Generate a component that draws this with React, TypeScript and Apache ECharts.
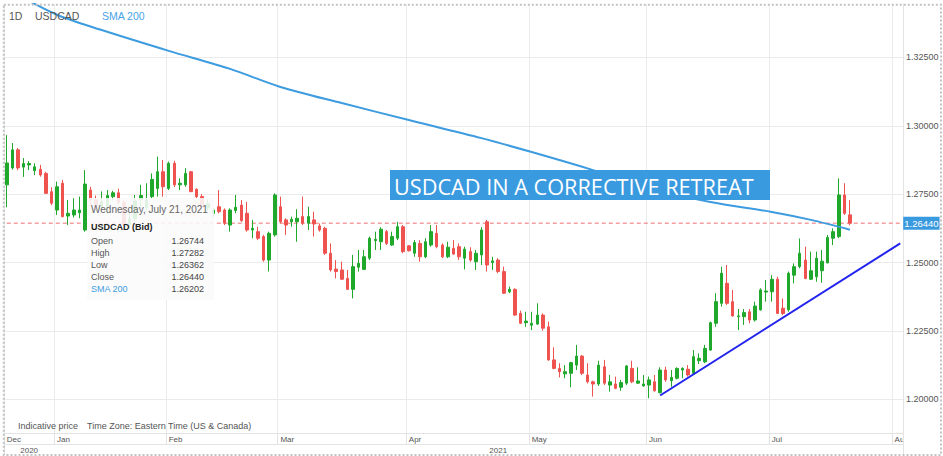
import React, { useEffect, useRef } from 'react';
import * as echarts from 'echarts';

// ---- categories: trading days shown on the axis ----
const tradingDays: [string, number[]][] = [
  ['2020-12', [18, 21, 22, 23, 24, 28, 29, 30, 31]],
  ['2021-01', [4, 5, 6, 7, 8, 11, 12, 13, 14, 15, 18, 19, 20, 21, 22, 25, 26, 27, 28, 29]],
  ['2021-02', [1, 2, 3, 4, 5, 8, 9, 10, 11, 12, 15, 16, 17, 18, 19, 22, 23, 24, 25, 26]],
  ['2021-03', [1, 2, 3, 4, 5, 8, 9, 10, 11, 12, 15, 16, 17, 18, 19, 22, 23, 24, 25, 26, 29, 30, 31]],
  ['2021-04', [1, 2, 5, 6, 7, 8, 9, 12, 13, 14, 15, 16, 19, 20, 21, 22, 23, 26, 27, 28, 29, 30]],
  ['2021-05', [3, 4, 5, 6, 7, 10, 11, 12, 13, 14, 17, 18, 19, 20, 21, 24, 25, 26, 27, 28, 31]],
  ['2021-06', [1, 2, 3, 4, 7, 8, 9, 10, 11, 14, 15, 16, 17, 18, 21, 22, 23, 24, 25, 28, 29, 30]],
  ['2021-07', [1, 2, 5, 6, 7, 8, 9, 12, 13, 14, 15, 16, 19, 20, 21, 22, 23, 26, 27, 28, 29, 30]],
  ['2021-08', [2, 3]],
];
const dates: string[] = tradingDays.flatMap(([ym, ds]) => ds.map((d) => `${ym}-${String(d).padStart(2, '0')}`));

const monthNames = ['Jan', 'Feb', 'Mar', 'Apr', 'May', 'Jun', 'Jul', 'Aug', 'Sep', 'Oct', 'Nov', 'Dec'];

// ---- OHLC ----
const opens = [
  1.2784, 1.2846, 1.2912, 1.2849, 1.2857, 1.2836, 1.2841, 1.2826, 1.2759,
  1.2692, 1.2790, 1.2670, 1.2674, 1.2682, 1.2619, 1.2765, 1.2729, 1.2705, 1.2700, 1.2741, 1.2755, 1.2720, 1.2640, 1.2660, 1.2730, 1.2700, 1.2741, 1.2771, 1.2832,
  1.2771, 1.2863, 1.2784, 1.2784, 1.2832, 1.2768, 1.2741, 1.2700, 1.2680, 1.2704, 1.2692, 1.2637, 1.2690, 1.2710, 1.2680, 1.2619, 1.2613, 1.2595, 1.2509, 1.2601,
  1.2704, 1.2656, 1.2649, 1.2649, 1.2668, 1.2644, 1.2656, 1.2634, 1.2625, 1.2534, 1.2476, 1.2473, 1.2442, 1.2402, 1.2483, 1.2475, 1.2516, 1.2580, 1.2576, 1.2613, 1.2564, 1.2589, 1.2631,
  1.2561, 1.2534, 1.2570, 1.2521, 1.2564, 1.2607, 1.2564, 1.2521, 1.2552, 1.2558, 1.2516, 1.2540, 1.2503, 1.2528, 1.2649, 1.2500, 1.2509, 1.2467, 1.2393, 1.2402, 1.2314, 1.2280,
  1.2271, 1.2275, 1.2308, 1.2265, 1.2144, 1.2113, 1.2093, 1.2095, 1.2125, 1.2158, 1.2089, 1.2064, 1.2056, 1.2119, 1.2052, 1.2056, 1.2044, 1.2059, 1.2113, 1.2059, 1.2049,
  1.2052, 1.2064, 1.2024, 1.2107, 1.2068, 1.2077, 1.2107, 1.2110, 1.2095, 1.2141, 1.2137, 1.2180, 1.2278, 1.2351, 1.2424, 1.2357, 1.2302, 1.2302, 1.2320, 1.2290, 1.2327, 1.2392,
  1.2393, 1.2439, 1.2333, 1.2327, 1.2454, 1.2485, 1.2509, 1.2439, 1.2448, 1.2470, 1.2499, 1.2589, 1.2595, 1.2747, 1.26744,
];
const closes = [
  1.2864, 1.2912, 1.2846, 1.2862, 1.2862, 1.2850, 1.2820, 1.2753, 1.2717,
  1.2777, 1.2668, 1.2680, 1.2692, 1.2692, 1.2787, 1.2729, 1.2705, 1.2722, 1.2745, 1.2755, 1.2720, 1.2640, 1.2660, 1.2725, 1.2745, 1.2728, 1.2804, 1.2832, 1.2777,
  1.2863, 1.2784, 1.2790, 1.2826, 1.2759, 1.2741, 1.2705, 1.2715, 1.2692, 1.2686, 1.2644, 1.2692, 1.2702, 1.2653, 1.2619, 1.2625, 1.2589, 1.2509, 1.2607, 1.2747,
  1.2649, 1.2637, 1.2658, 1.2662, 1.2644, 1.2668, 1.2641, 1.2619, 1.2534, 1.2473, 1.2467, 1.2439, 1.2402, 1.2485, 1.2497, 1.2521, 1.2589, 1.2585, 1.2622, 1.2570, 1.2595, 1.2631, 1.2540,
  1.2543, 1.2573, 1.2521, 1.2576, 1.2613, 1.2558, 1.2521, 1.2556, 1.2531, 1.2521, 1.2549, 1.2509, 1.2534, 1.2619, 1.2491, 1.2506, 1.2467, 1.2388, 1.2402, 1.2308, 1.2278, 1.2286,
  1.2278, 1.2308, 1.2260, 1.2144, 1.2113, 1.2101, 1.2101, 1.2134, 1.2158, 1.2095, 1.2064, 1.2056, 1.2125, 1.2059, 1.2064, 1.2040, 1.2061, 1.2122, 1.2064, 1.2067, 1.2056,
  1.2071, 1.2031, 1.2107, 1.2071, 1.2080, 1.2113, 1.2113, 1.2089, 1.2156, 1.2150, 1.2186, 1.2280, 1.2357, 1.2461, 1.2351, 1.2305, 1.2305, 1.2317, 1.2290, 1.2341, 1.2400, 1.2396,
  1.2439, 1.2314, 1.2314, 1.2461, 1.2485, 1.2534, 1.2442, 1.2470, 1.2516, 1.2505, 1.2592, 1.2613, 1.2747, 1.2680, 1.26440,
];
const lows = [
  1.2702, 1.2840, 1.2838, 1.2813, 1.2838, 1.2820, 1.2814, 1.2751, 1.2710,
  1.2674, 1.2665, 1.2637, 1.2665, 1.2662, 1.2613, 1.2710, 1.2690, 1.2684, 1.2680, 1.2728, 1.2712, 1.2630, 1.2625, 1.2645, 1.2700, 1.2690, 1.2735, 1.2741, 1.2741,
  1.2765, 1.2776, 1.2765, 1.2777, 1.2759, 1.2735, 1.2695, 1.2690, 1.2665, 1.2680, 1.2637, 1.2613, 1.2680, 1.2649, 1.2613, 1.2589, 1.2582, 1.2503, 1.2467, 1.2595,
  1.2643, 1.2601, 1.2631, 1.2576, 1.2637, 1.2619, 1.2595, 1.2613, 1.2528, 1.2467, 1.2442, 1.2436, 1.2400, 1.2369, 1.2467, 1.2473, 1.2509, 1.2546, 1.2546, 1.2564, 1.2561, 1.2582, 1.2534,
  1.2540, 1.2521, 1.2503, 1.2516, 1.2558, 1.2552, 1.2516, 1.2516, 1.2528, 1.2509, 1.2475, 1.2503, 1.2473, 1.2491, 1.2467, 1.2473, 1.2461, 1.2385, 1.2388, 1.2305, 1.2275, 1.2265,
  1.2253, 1.2272, 1.2251, 1.2141, 1.2110, 1.2080, 1.2077, 1.2044, 1.2107, 1.2089, 1.2058, 1.2010, 1.2049, 1.2052, 1.2028, 1.2037, 1.2031, 1.2052, 1.2059, 1.2056, 1.2046,
  1.2004, 1.2028, 1.2022, 1.2064, 1.2046, 1.2073, 1.2077, 1.2083, 1.2089, 1.2129, 1.2132, 1.2178, 1.2265, 1.2339, 1.2345, 1.2302, 1.2253, 1.2272, 1.2278, 1.2284, 1.2324, 1.2357,
  1.2357, 1.2312, 1.2308, 1.2320, 1.2424, 1.2479, 1.2439, 1.2436, 1.2430, 1.2426, 1.2497, 1.2564, 1.2589, 1.2674, 1.26362,
];
const highs = [
  1.2966, 1.2937, 1.2919, 1.2882, 1.2871, 1.2863, 1.2857, 1.2832, 1.2775,
  1.2796, 1.2802, 1.2729, 1.2735, 1.2741, 1.2838, 1.2777, 1.2745, 1.2760, 1.2765, 1.2762, 1.2770, 1.2730, 1.2690, 1.2747, 1.2784, 1.2790, 1.2826, 1.2887, 1.2875,
  1.2869, 1.2872, 1.2808, 1.2845, 1.2835, 1.2771, 1.2750, 1.2730, 1.2700, 1.2765, 1.2698, 1.2698, 1.2747, 1.2729, 1.2722, 1.2656, 1.2631, 1.2601, 1.2613, 1.2753,
  1.2741, 1.2662, 1.2668, 1.2695, 1.2741, 1.2704, 1.2686, 1.2643, 1.2631, 1.2570, 1.2509, 1.2503, 1.2473, 1.2528, 1.2546, 1.2546, 1.2595, 1.2613, 1.2629, 1.2619, 1.2613, 1.2649, 1.2637,
  1.2564, 1.2582, 1.2582, 1.2589, 1.2637, 1.2637, 1.2570, 1.2576, 1.2582, 1.2570, 1.2558, 1.2556, 1.2546, 1.2629, 1.2656, 1.2521, 1.2516, 1.2485, 1.2412, 1.2406, 1.2324, 1.2320,
  1.2320, 1.2351, 1.2314, 1.2284, 1.2190, 1.2132, 1.2125, 1.2137, 1.2199, 1.2162, 1.2132, 1.2068, 1.2141, 1.2144, 1.2089, 1.2083, 1.2071, 1.2125, 1.2141, 1.2117, 1.2089,
  1.2083, 1.2089, 1.2117, 1.2119, 1.2107, 1.2117, 1.2117, 1.2125, 1.2180, 1.2168, 1.2199, 1.2284, 1.2388, 1.2485, 1.2491, 1.2400, 1.2330, 1.2330, 1.2330, 1.2357, 1.2406, 1.2436,
  1.2454, 1.2448, 1.2369, 1.2467, 1.2497, 1.2588, 1.2558, 1.2540, 1.2540, 1.2546, 1.2601, 1.2625, 1.2808, 1.2790, 1.27282,
];

// ---- SMA 200 ----
const smaDates = ['2020-12-18', '2021-01-04', '2021-01-14', '2021-02-01', '2021-02-16', '2021-03-01', '2021-03-16', '2021-04-01', '2021-04-20', '2021-05-03', '2021-05-18', '2021-06-01', '2021-06-16', '2021-07-01', '2021-07-12', '2021-07-21'];
const smaValues = [1.3500, 1.3406, 1.3350, 1.3274, 1.3208, 1.3142, 1.3083, 1.3021, 1.2955, 1.2904, 1.2838, 1.2773, 1.2721, 1.2685, 1.2656, 1.26202];

// ---- trend line ----
const trendDates = ['2021-06-03', '2021-08-03'];
const trendValues = [1.2014, 1.2570];

// ---- price axis ----
const yTicks = [1.2, 1.225, 1.25, 1.275, 1.3, 1.325];
const yMin = 1.18768;
const yMax = 1.34453;

const FONT = '"Liberation Sans", Arial, Helvetica, sans-serif';
const PRICE_RED = '#f07070';

function isMonthStart(i: number) {
  if (i === 0) return true;
  return dates[i].slice(0, 7) !== dates[i - 1].slice(0, 7);
}
function isYearStart(i: number) {
  return i > 0 && dates[i].slice(0, 4) !== dates[i - 1].slice(0, 4);
}

export default function App() {
  const ref = useRef<HTMLDivElement>(null);
  useEffect(() => {
    if (!ref.current) return;
    const chart = echarts.init(ref.current, undefined, { renderer: 'svg' });
    const last = opens.length - 1;
    const lastClose = closes[last];
    const candleData = opens.map((o, i) => [o, closes[i], lows[i], highs[i]]);
    const lastDateParts = dates[last].split('-').map(Number);
    const lastDate = new Date(lastDateParts[0], lastDateParts[1] - 1, lastDateParts[2]);
    const dateTitle = lastDate.toLocaleDateString('en-US', { weekday: 'long', year: 'numeric', month: 'long', day: 'numeric' });
    const yearLabelIdx: Record<number, boolean> = { 4: true, 88: true };

    const infoRows: [string, number, string][] = [
      ['Open', opens[last], '#555'],
      ['High', highs[last], '#555'],
      ['Low', lows[last], '#555'],
      ['Close', closes[last], '#555'],
      ['SMA 200', smaValues[smaValues.length - 1], '#3d9be0'],
    ];

    const txt = (text: string, x: number, y: number, size: number, fill: string, extra: any = {}) => ({
      type: 'text',
      z: 100,
      style: {
        text, x, y, fill,
        fontSize: size, fontFamily: FONT,
        align: extra.align || 'left', textAlign: extra.align || 'left',
        verticalAlign: 'middle', textVerticalAlign: 'middle',
        fontWeight: extra.weight || 'normal',
      },
    });

    const graphic: any[] = [
      { type: 'rect', z: 100, shape: { x: 3.8, y: 4.7, width: 937.2, height: 450.3 }, style: { fill: 'none', stroke: '#c2c2c2', lineWidth: 2, lineDash: [2, 2] } },
      { type: 'rect', z: 90, shape: { x: 904, y: 434, width: 36, height: 20 }, style: { fill: '#fff' } },
      { type: 'line', z: 91, shape: { x1: 903.5, y1: 433, x2: 903.5, y2: 455 }, style: { stroke: '#e3e3e3', lineWidth: 1 } },
      txt('1D', 9, 16, 10.5, '#555'),
      txt('USDCAD', 35, 16, 10.5, '#555'),
      txt('SMA 200', 102, 16, 10.5, '#4aa3e6'),
      txt('Indicative price', 18, 426, 9, '#555'),
      txt('Time Zone: Eastern Time (US & Canada)', 87, 426, 9, '#555'),
      { type: 'rect', z: 100, shape: { x: 390, y: 170, width: 380, height: 30 }, style: { fill: '#3a9ae0' } },
      {
        type: 'text', z: 101,
        style: { text: 'USDCAD IN A CORRECTIVE RETREAT', x: 394, y: 186, fill: '#fff', fontSize: 21.7, fontFamily: '"Open Sans", Roboto, sans-serif', align: 'left', textAlign: 'left', verticalAlign: 'middle', textVerticalAlign: 'middle' },
      },
      { type: 'rect', z: 99, shape: { x: 87, y: 198, width: 127, height: 102 }, style: { fill: 'rgba(250,250,250,0.88)' } },
      txt(dateTitle, 91, 209, 10, '#666'),
      txt('USDCAD (Bid)', 91, 227, 9, '#222', { weight: 'bold' }),
    ];
    infoRows.forEach(([label, val, color], k) => {
      const y = 241 + k * 12;
      graphic.push(txt(label, 91, y, 9, color));
      graphic.push(txt(val.toFixed(5), 204, y, 9, '#444', { align: 'right' }));
    });

    const option: any = {
      animation: false,
      textStyle: { fontFamily: FONT },
      grid: { left: 4, right: 40, top: 4, bottom: 23, containLabel: false },
      xAxis: [
        {
          type: 'category',
          data: dates,
          boundaryGap: true,
          axisLine: { show: true, lineStyle: { color: '#e3e3e3' } },
          axisTick: { show: true, length: 11, interval: (i: number) => isMonthStart(i), lineStyle: { color: '#e3e3e3' } },
          axisLabel: {
            show: true,
            interval: (i: number) => isMonthStart(i),
            formatter: (v: string) => monthNames[Number(v.slice(5, 7)) - 1],
            align: 'left',
            fontSize: 8,
            color: '#555',
            margin: 2,
            hideOverlap: false,
          },
          splitLine: { show: true, interval: (i: number) => isMonthStart(i), lineStyle: { color: '#ebebeb' } },
        },
        {
          type: 'category',
          data: dates,
          boundaryGap: true,
          position: 'bottom',
          offset: 11,
          axisLine: { show: true, lineStyle: { color: '#e3e3e3' } },
          axisTick: { show: true, length: 11, interval: (i: number) => isYearStart(i), lineStyle: { color: '#e3e3e3' } },
          axisLabel: {
            show: true,
            interval: (i: number) => !!yearLabelIdx[i],
            formatter: (v: string) => v.slice(0, 4),
            align: 'center',
            fontSize: 8,
            color: '#555',
            margin: 2,
          },
          splitLine: { show: false },
        },
      ],
      yAxis: {
        type: 'value',
        position: 'right',
        min: yMin,
        max: yMax,
        axisLine: { show: true, lineStyle: { color: '#e3e3e3' } },
        axisTick: { show: false, customValues: yTicks },
        axisLabel: { customValues: yTicks, formatter: (v: number) => v.toFixed(5), fontSize: 9, color: '#555', margin: 3 },
        splitLine: { show: true, lineStyle: { color: '#ebebeb' } },
      },
      series: [
        {
          type: 'line',
          name: 'last price',
          data: [[dates[0], lastClose], [dates[dates.length - 1], lastClose]],
          showSymbol: false,
          silent: true,
          color: PRICE_RED,
          lineStyle: { color: PRICE_RED, type: [4, 3], width: 1 },
          endLabel: {
            show: true,
            distance: 3,
            formatter: () => lastClose.toFixed(5),
            backgroundColor: '#3a9ae0',
            color: '#fff',
            fontSize: 9.5,
            padding: [2, 1, 1, 1],
          },
          z: 1,
        },
        {
          type: 'candlestick',
          data: candleData,
          barWidth: 3,
          itemStyle: { color: '#1fa82b', color0: '#ef5350', borderColor: '#1fa82b', borderColor0: '#ef5350', borderWidth: 1 },
          z: 2,
        },
        {
          type: 'line',
          name: 'SMA 200',
          data: smaDates.map((d, i) => [d, smaValues[i]]),
          showSymbol: false,
          smooth: 0.3,
          lineStyle: { color: '#3d9be0', width: 2 },
          z: 3,
        },
        {
          type: 'line',
          data: trendDates.map((d, i) => [d, trendValues[i]]),
          showSymbol: false,
          lineStyle: { color: '#2323ee', width: 2 },
          z: 4,
        },
      ],
      graphic,
    };
    chart.setOption(option);
    return () => chart.dispose();
  }, []);
  return <div ref={ref} style={{ position: 'fixed', left: 0, top: 0, width: 943, height: 456, background: '#fff' }} />;
}
